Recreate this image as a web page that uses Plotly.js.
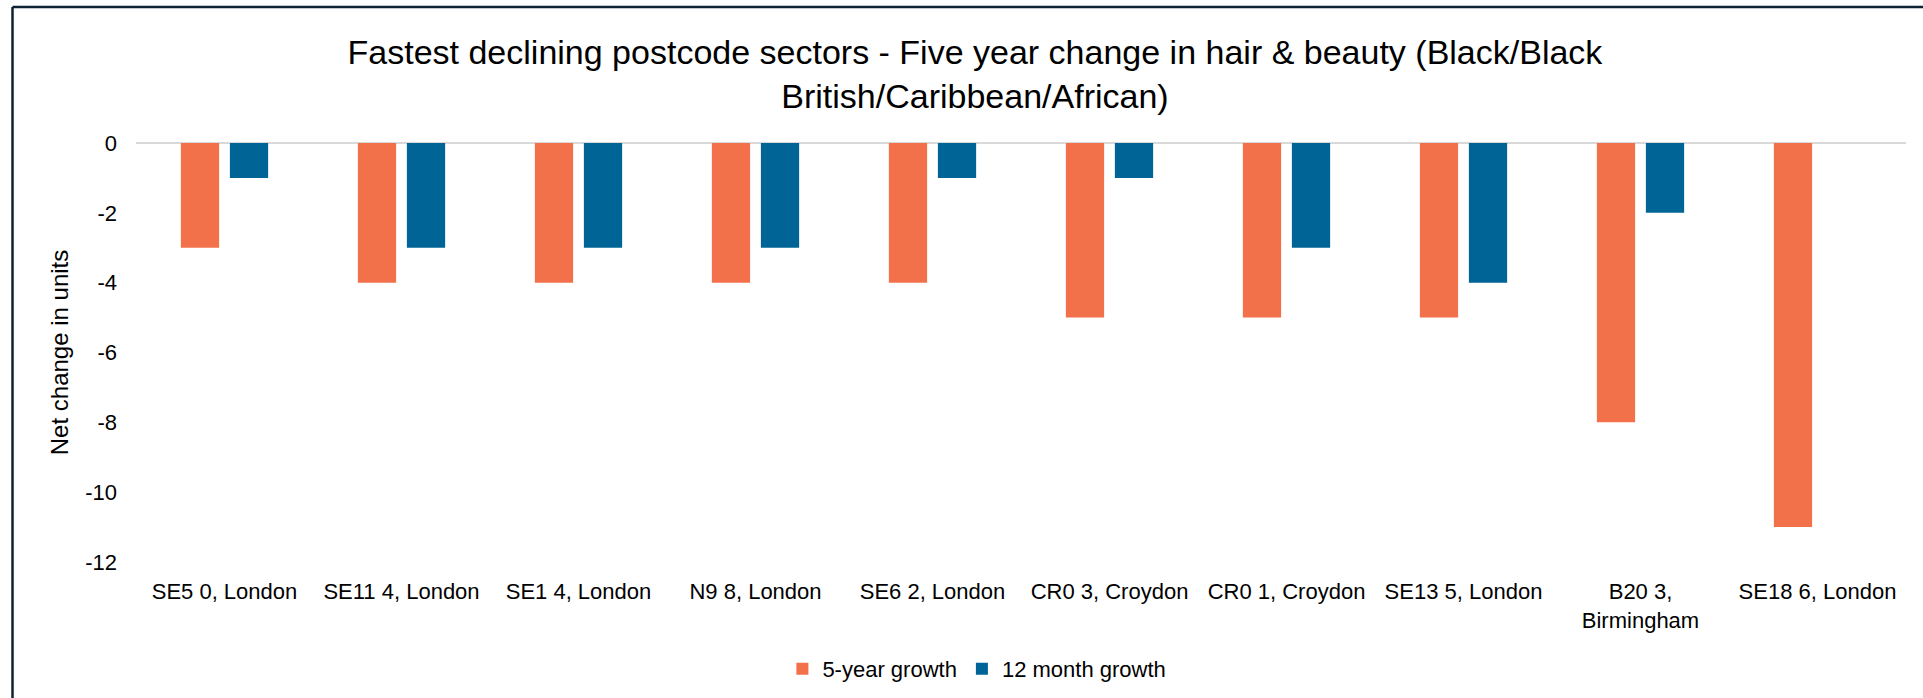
<!DOCTYPE html>
<html>
<head>
<meta charset="utf-8">
<script src="https://cdn.plot.ly/plotly-3.0.1.min.js"></script>
<style>
html,body{margin:0;padding:0;background:#fff;}
#chart{width:1923px;height:698px;}
</style>
</head>
<body>
<div id="chart"></div>
<script>
const categories = ["SE5 0, London", "SE11 4, London", "SE1 4, London", "N9 8, London", "SE6 2, London",
  "CR0 3, Croydon", "CR0 1, Croydon", "SE13 5, London", "B20 3,<br>Birmingham", "SE18 6, London"];
const fiveYearGrowth = [-3, -4, -4, -4, -4, -5, -5, -5, -8, -11];
const twelveMonthGrowth = [-1, -3, -3, -3, -1, -1, -3, -4, -2, 0];
const seriesNames = ["5-year growth", "12 month growth"];
const yTicks = [0, -2, -4, -6, -8, -10, -12];
const yTickText = ["0", "-2", "-4", "-6", "-8", "-10", "-12"];

const FONT = "Liberation Sans, Arial, sans-serif";

const traces = [
  {type: "bar", name: seriesNames[0], x: categories, y: fiveYearGrowth,
   marker: {color: "#F2704A"}},
  {type: "bar", name: seriesNames[1], x: categories, y: twelveMonthGrowth,
   marker: {color: "#006496"}}
];

const L = 136, R = 1906, T = 143, B = 562, W = 1923, H = 698;
const px = v => (v - L) / (R - L);
const py = v => (B - v) / (B - T);

const layout = {
  width: W, height: H,
  margin: {l: L, r: W - R, t: T, b: H - B},
  paper_bgcolor: "#fff", plot_bgcolor: "#fff",
  font: {family: FONT, size: 22, color: "#000"},
  title: {text: "Fastest declining postcode sectors - Five year change in hair & beauty (Black/Black<br>British/Caribbean/African)",
    font: {family: FONT, size: 34, color: "#000"},
    xref: "container", x: 0.507, xanchor: "center",
    yref: "container", y: 1 - 64 / H, yanchor: "top"},
  barmode: "group", bargap: 0.446, bargroupgap: 0.22,
  xaxis: {type: "category", showgrid: false, showline: false, ticks: "",
    ticklabelstandoff: 14,
    tickfont: {family: FONT, size: 22, color: "#000"}, automargin: false},
  yaxis: {range: [-12, 0], tickvals: yTicks, ticktext: yTickText, showgrid: false, zeroline: true,
    zerolinecolor: "#d9d9d9", zerolinewidth: 2, showline: false, ticks: "",
    ticklabelstandoff: 18,
    tickfont: {family: FONT, size: 22, color: "#000"},
    title: {text: "Net change in units", font: {family: FONT, size: 24, color: "#000"}, standoff: 9},
    automargin: false},
  legend: {orientation: "h", xref: "container", yref: "container", x: 0.508, xanchor: "center",
    y: 1 - 669 / H, yanchor: "middle", font: {family: FONT, size: 22, color: "#000"},
    itemwidth: 30, traceorder: "normal"},
  shapes: [
    {type: "line", xref: "paper", yref: "paper", x0: px(12.5), x1: px(12.5), y0: py(7), y1: py(H + 5),
      line: {color: "#0e2234", width: 2.5}},
    {type: "line", xref: "paper", yref: "paper", x0: px(12.5), x1: px(W + 5), y0: py(7), y1: py(7),
      line: {color: "#0e2234", width: 2.5}}
  ]
};

Plotly.newPlot("chart", traces, layout, {displayModeBar: false, staticPlot: true});
</script>
</body>
</html>
